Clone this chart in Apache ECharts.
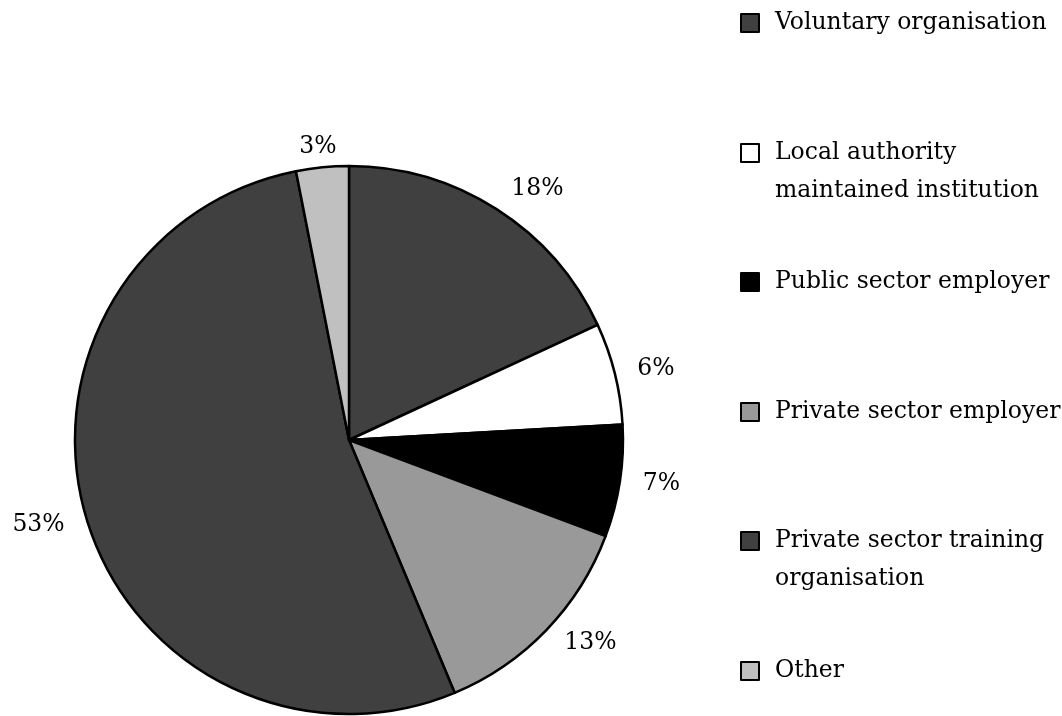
<!DOCTYPE html>
<html><head><meta charset="utf-8">
<script src="https://cdn.jsdelivr.net/npm/echarts@6/dist/echarts.min.js"></script>
<style>html,body{margin:0;padding:0;background:#fff}#c{width:1062px;height:716px}</style>
</head><body><div id="c"></div>
<script>
const categories = ["Voluntary organisation", "Local authority\nmaintained institution", "Public sector employer", "Private sector employer", "Private sector training\norganisation", "Other"];
const values = [18.1, 6.0, 6.6, 13.0, 53.2, 3.1];
const colors = ["#404040", "#ffffff", "#000000", "#999999", "#404040", "#c0c0c0"];

const FONT = "'DejaVu Serif', serif";
const FS = 23.5;
const LH = 38;
const labelShift = [[0, -5], [0, 0], [0, 0], [0, 0], [0, 0], [21, -2]];
const chart = echarts.init(document.getElementById('c'), null, {renderer: 'canvas'});

const legends = categories.map((n, i) => {
  const multi = n.indexOf('\n') >= 0;
  const h = multi ? 3 * LH : LH;
  return {
    orient: 'vertical',
    left: 740,
    top: Math.round(23 + i * 129.6 - h / 2),
    padding: 0,
    itemWidth: 18,
    itemHeight: 18,
    itemGap: 0,
    icon: 'rect',
    selectedMode: false,
    textStyle: {fontFamily: FONT, fontSize: FS, color: '#000', lineHeight: LH, padding: [0, 0, 0, 11]},
    formatter: nm => (nm.indexOf('\n') >= 0 ? '\n' + nm : nm),
    data: [n]
  };
});

chart.setOption({
  animation: false,
  backgroundColor: '#fff',
  legend: legends,
  series: [{
    type: 'pie',
    center: [349, 440],
    radius: 274,
    startAngle: 90,
    clockwise: true,
    avoidLabelOverlap: false,
    data: categories.map((n, i) => ({
      name: n, value: values[i], itemStyle: {color: colors[i]},
      label: {offset: labelShift[i]}
    })),
    itemStyle: {borderColor: '#000', borderWidth: 2.5},
    label: {
      show: true,
      position: 'outside',
      formatter: p => Math.round(p.value) + '%',
      fontFamily: FONT, fontSize: FS, color: '#000'
    },
    labelLine: {show: false, length: 18, length2: 0},
    emphasis: {disabled: true}
  }]
});
</script></body></html>
